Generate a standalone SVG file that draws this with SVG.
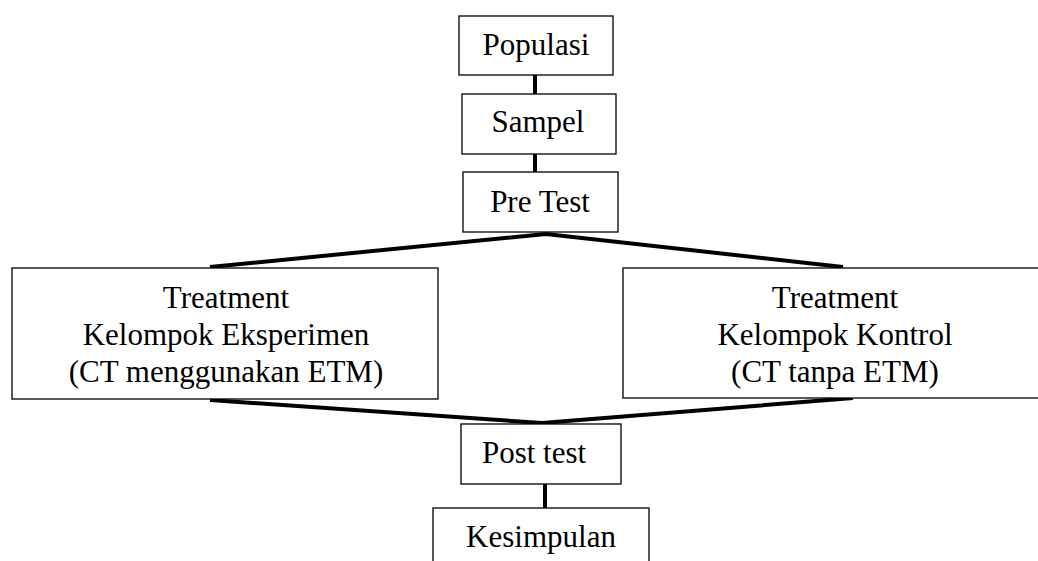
<svg xmlns="http://www.w3.org/2000/svg" width="1038" height="561" viewBox="0 0 1038 561">
<style>
.box{fill:#fff;stroke:#000;stroke-width:1.3}
.t{font-family:'Liberation Serif', serif;font-size:31px;fill:#000;text-anchor:middle}
.c{stroke:#000;stroke-width:4;fill:none;stroke-linecap:butt}
</style>
<rect width="1038" height="561" fill="#fff"/>
<g id="connectors">
<line class="c" x1="535" y1="75" x2="535" y2="94"/>
<line class="c" x1="535" y1="154" x2="535" y2="172"/>
<polyline class="c" points="210,267 546,234 843,267"/>
<polyline class="c" points="210,400 542,423 853,398"/>
<line class="c" x1="545" y1="484" x2="545" y2="508"/>
</g>
<g id="populasi"><rect class="box" x="459" y="16" width="154" height="59"/><text class="t" font-family="Liberation Serif" x="536" y="55">Populasi</text></g>
<g id="sampel"><rect class="box" x="462" y="94" width="154" height="60"/><text class="t" font-family="Liberation Serif" x="538" y="132">Sampel</text></g>
<g id="pretest"><rect class="box" x="463" y="172" width="155" height="60"/><text class="t" font-family="Liberation Serif" x="540" y="212">Pre Test</text></g>
<g id="eksperimen"><rect class="box" x="12" y="268" width="426" height="131"/><text class="t" x="226" y="308">Treatment</text><text class="t" x="226" y="345">Kelompok Eksperimen</text><text class="t" x="226" y="382">(CT menggunakan ETM)</text></g>
<g id="kontrol"><rect class="box" x="623" y="268" width="424" height="130"/><text class="t" x="835" y="308">Treatment</text><text class="t" x="835" y="345">Kelompok Kontrol</text><text class="t" x="835" y="382">(CT tanpa ETM)</text></g>
<g id="posttest"><rect class="box" x="461" y="424" width="160" height="60"/><text class="t" x="534" y="463">Post test</text></g>
<g id="kesimpulan"><rect class="box" x="433" y="508" width="216" height="70"/><text class="t" x="541" y="547">Kesimpulan</text></g>
</svg>
